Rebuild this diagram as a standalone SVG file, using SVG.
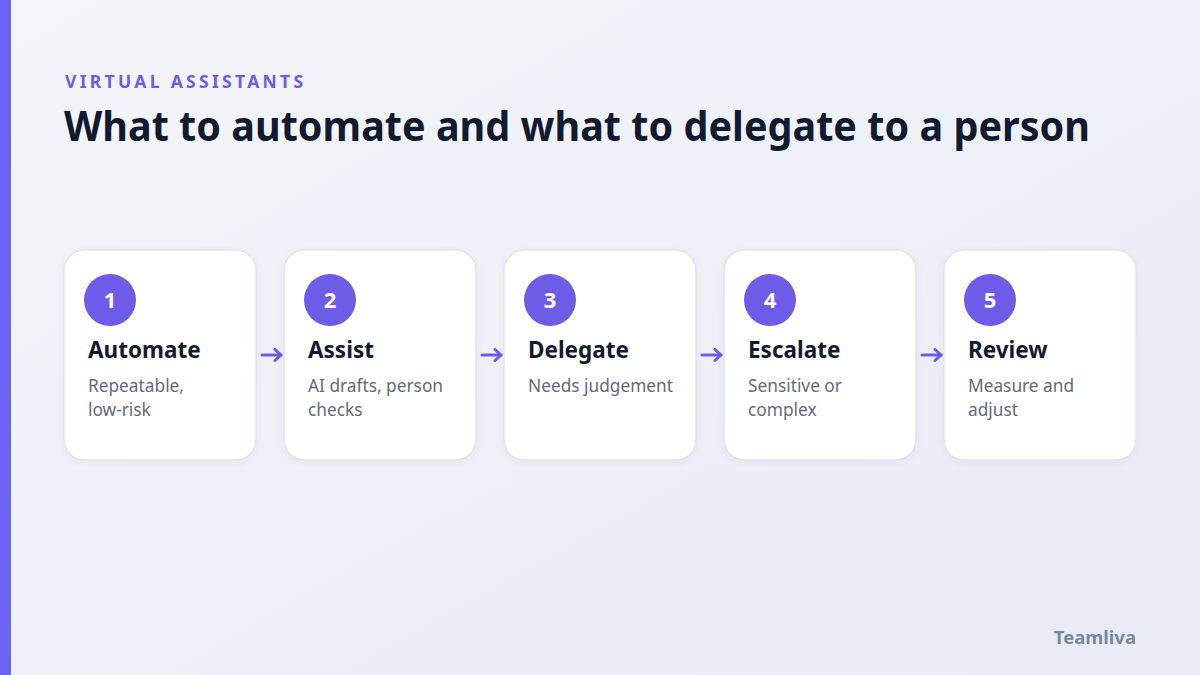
<svg xmlns="http://www.w3.org/2000/svg" width="1200" height="675" viewBox="0 0 1200 675">
<defs>
<linearGradient id="bg" x1="0" y1="0" x2="1" y2="1">
<stop offset="0" stop-color="#f4f5fa"/>
<stop offset="1" stop-color="#e8ebf5"/>
</linearGradient>
<marker id="ah" viewBox="0 0 14 14" refX="10" refY="7" markerWidth="14" markerHeight="14" markerUnits="userSpaceOnUse" orient="auto">
<path d="M4,1.5 L10,7 L4,12.5" fill="none" stroke="#6c5ce7" stroke-width="3" stroke-linecap="round" stroke-linejoin="round"/>
</marker>
<filter id="sh" x="-10%" y="-10%" width="120%" height="130%">
<feDropShadow dx="0" dy="2" stdDeviation="3" flood-color="#1e2a5a" flood-opacity="0.05"/>
</filter>
</defs>
<style>
.card{fill:#ffffff;stroke:#dfe3ee;stroke-width:1.5;filter:url(#sh)}
.num-c{fill:#6c5ce7}
.num{font-family:"Noto Sans","Open Sans",sans-serif;font-weight:700;font-size:22px;fill:#ffffff;text-anchor:middle}
.ttl{font-family:"Noto Sans","Open Sans",sans-serif;font-weight:700;font-size:22.5px;fill:#111a2e}
.dsc{font-family:"Noto Sans","Open Sans",sans-serif;font-size:17.3px;fill:#5f6a80}
.conn{stroke:#6c5ce7;stroke-width:3;stroke-linecap:round;fill:none}
</style>
<rect width="1200" height="675" fill="url(#bg)"/>
<rect x="0" y="0" width="11" height="675" fill="#6c63f5"/>
<text x="65" y="88" font-family="'Noto Sans','Open Sans',sans-serif" font-weight="700" font-size="17.5" letter-spacing="3.3" fill="#6c5ce7">VIRTUAL ASSISTANTS</text>
<text x="64" y="141" font-family="'Noto Sans','Open Sans',sans-serif" font-weight="700" font-size="42" fill="#111a2e" textLength="1026" lengthAdjust="spacingAndGlyphs">What to automate and what to delegate to a person</text>

<g id="connectors">
<line class="conn" x1="262" y1="355" x2="281" y2="355" marker-end="url(#ah)"/>
<line class="conn" x1="482" y1="355" x2="501" y2="355" marker-end="url(#ah)"/>
<line class="conn" x1="702" y1="355" x2="721" y2="355" marker-end="url(#ah)"/>
<line class="conn" x1="922" y1="355" x2="941" y2="355" marker-end="url(#ah)"/>
</g>

<g id="node1">
<rect class="card" x="64" y="250" width="192" height="210" rx="20"/>
<circle class="num-c" cx="110" cy="300" r="26"/>
<text class="num" x="110" y="308">1</text>
<text class="ttl" x="88" y="358">Automate</text>
<text class="dsc" x="88" y="392">Repeatable,</text>
<text class="dsc" x="88" y="416">low-risk</text>
</g>
<g id="node2">
<rect class="card" x="284" y="250" width="192" height="210" rx="20"/>
<circle class="num-c" cx="330" cy="300" r="26"/>
<text class="num" x="330" y="308">2</text>
<text class="ttl" x="308" y="358">Assist</text>
<text class="dsc" x="308" y="392">AI drafts, person</text>
<text class="dsc" x="308" y="416">checks</text>
</g>
<g id="node3">
<rect class="card" x="504" y="250" width="192" height="210" rx="20"/>
<circle class="num-c" cx="550" cy="300" r="26"/>
<text class="num" x="550" y="308">3</text>
<text class="ttl" x="528" y="358">Delegate</text>
<text class="dsc" x="528" y="392">Needs judgement</text>
</g>
<g id="node4">
<rect class="card" x="724" y="250" width="192" height="210" rx="20"/>
<circle class="num-c" cx="770" cy="300" r="26"/>
<text class="num" x="770" y="308">4</text>
<text class="ttl" x="748" y="358">Escalate</text>
<text class="dsc" x="748" y="392">Sensitive or</text>
<text class="dsc" x="748" y="416">complex</text>
</g>
<g id="node5">
<rect class="card" x="944" y="250" width="192" height="210" rx="20"/>
<circle class="num-c" cx="990" cy="300" r="26"/>
<text class="num" x="990" y="308">5</text>
<text class="ttl" x="968" y="358">Review</text>
<text class="dsc" x="968" y="392">Measure and</text>
<text class="dsc" x="968" y="416">adjust</text>
</g>

<text x="1136" y="644" text-anchor="end" font-family="'Noto Sans','Open Sans',sans-serif" font-weight="700" font-size="18.5" fill="#7a88a2">Teamliva</text>
</svg>
